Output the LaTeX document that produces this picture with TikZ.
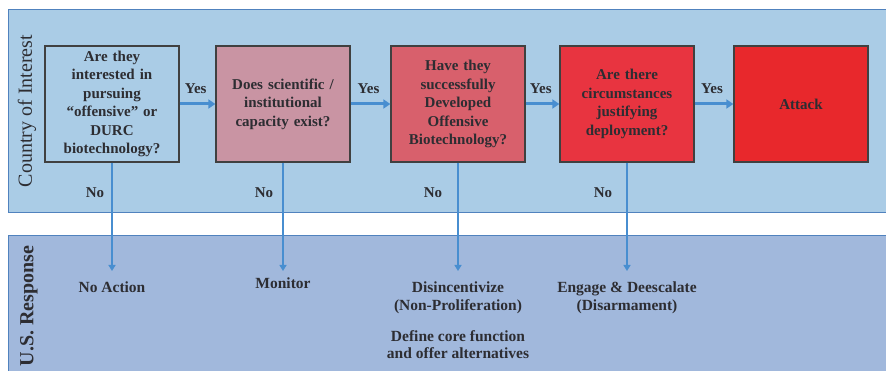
\documentclass[tikz,border=0pt]{standalone}
\usepackage{fontspec}
\setmainfont{Liberation Serif}
\usetikzlibrary{arrows.meta}
\definecolor{bandtop}{RGB}{170,204,230}
\definecolor{bandbot}{RGB}{161,184,220}
\definecolor{bandedge}{RGB}{80,130,190}
\definecolor{arrowc}{RGB}{72,142,208}
\definecolor{boxa}{RGB}{170,204,230}
\definecolor{boxb}{RGB}{201,148,163}
\definecolor{boxc}{RGB}{216,96,108}
\definecolor{boxd}{RGB}{232,52,64}
\definecolor{boxe}{RGB}{232,40,44}
\definecolor{txt}{RGB}{45,45,50}
\begin{document}
\begin{tikzpicture}[x=1pt,y=-1pt,
  qbox/.style={draw=black!75,line width=1.3pt,minimum width=134pt,minimum height=116pt,
    align=center,text width=132pt,font=\fontsize{15}{18.5}\selectfont\bfseries,text=txt,inner sep=0pt},
  flow/.style={draw=arrowc,line width=3pt,-{Triangle[length=7pt,width=9pt]}},
  drop/.style={draw=arrowc,line width=2pt,-{Triangle[length=6pt,width=7pt]}},
  lbl/.style={font=\fontsize{15}{18}\selectfont\bfseries,text=txt,inner sep=0pt},
  resp/.style={font=\fontsize{15.5}{17.5}\selectfont\bfseries,text=txt,align=center,inner sep=0pt},
  side/.style={font=\fontsize{20}{22}\selectfont,text=txt,rotate=90,inner sep=0pt}]
\useasboundingbox (0,0) rectangle (886,371);
\fill[white] (0,0) rectangle (886,371);
% bands
\path[fill=bandtop,draw=bandedge,line width=1pt] (8,10) rectangle (892,213);
\path[fill=bandbot,draw=bandedge,line width=1pt] (8,236) rectangle (892,375);
\node[side] (sideA) at (27,111) {Country of Interest};
\node[side,font=\fontsize{20}{22}\selectfont\bfseries] (sideB) at (29,306) {U.S. Response};
% boxes
\node[qbox,fill=boxa] (b1) at (112,104) {Are they\\interested in\\pursuing\\``offensive'' or\\DURC\\biotechnology?};
\node[qbox,fill=boxb] (b2) at (283,104) {Does scientific /\\institutional\\capacity exist?};
\node[qbox,fill=boxc] (b3) at (458,104) {Have they\\successfully\\Developed\\Offensive\\Biotechnology?};
\node[qbox,fill=boxd] (b4) at (627,104) {Are there\\circumstances\\justifying\\deployment?};
\node[qbox,fill=boxe] (b5) at (801,104) {Attack};
% yes arrows
\draw[flow] (b1) -- node[lbl,above=9pt,pos=0.45] (y1) {Yes} (b2);
\draw[flow] (b2) -- node[lbl,above=9pt,pos=0.45] (y2) {Yes} (b3);
\draw[flow] (b3) -- node[lbl,above=9pt,pos=0.45] (y3) {Yes} (b4);
\draw[flow] (b4) -- node[lbl,above=9pt,pos=0.45] (y4) {Yes} (b5);
% responses
\node[resp,anchor=north] (r1) at (112,282) {No Action};
\node[resp,anchor=north] (r2) at (283,278) {Monitor};
\node[resp,anchor=north] (r3) at (458,282) {Disincentivize\\(Non-Proliferation)};
\node[resp,anchor=north] (r3b) at (458,330) {Define core function\\and offer alternatives};
\node[resp,anchor=north] (r4) at (627,282) {Engage \& Deescalate\\(Disarmament)};
% no arrows
\coordinate (e1) at (112,271);
\coordinate (e2) at (283,271);
\coordinate (e3) at (458,271);
\coordinate (e4) at (627,271);
\draw[drop] (b1.south) -- (e1);
\draw[drop] (b2.south) -- (e2);
\draw[drop] (b3.south) -- (e3);
\draw[drop] (b4.south) -- (e4);
\node[lbl] (n1) at (95,193) {No};
\node[lbl] (n2) at (264,193) {No};
\node[lbl] (n3) at (433,193) {No};
\node[lbl] (n4) at (603,193) {No};
\end{tikzpicture}
\end{document}
